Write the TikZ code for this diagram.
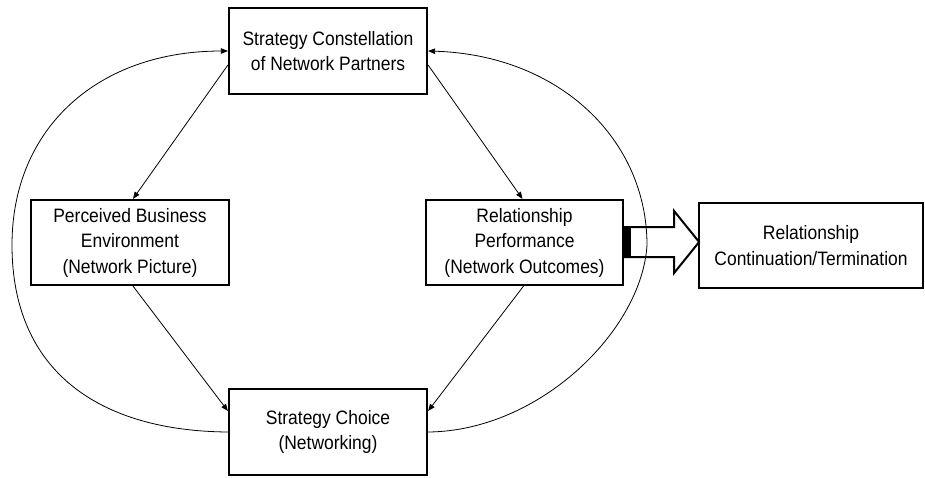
\documentclass[tikz,border=0pt]{standalone}
\usepackage{fontspec}
\setmainfont{Liberation Sans}[FakeStretch=0.9]
\usetikzlibrary{arrows.meta,calc}
\begin{document}
\begin{tikzpicture}[x=1pt,y=-1pt,
  box/.style={draw,line width=2.2pt,fill=white,align=center,inner sep=0pt,
    font=\fontsize{19.4}{25.5}\selectfont},
  link/.style={line width=0.8pt,-{Triangle[length=7pt,width=5.5pt]}},
  bigarrow/.style={draw,line width=2pt,line join=miter}]
\useasboundingbox (0,0) rectangle (925,477);

% boxes
\node[box,minimum width=198pt,minimum height=86pt] (top)  at (328,51)    {Strategy Constellation\\of Network Partners};
\node[box,minimum width=198pt,minimum height=85pt] (lbox) at (130,242.5) {Perceived Business\\Environment\\(Network Picture)};
\node[box,minimum width=197pt,minimum height=85pt] (rbox) at (524.5,242.5) {Relationship\\Performance\\(Network Outcomes)};
\node[box,minimum width=198pt,minimum height=86pt] (bot)  at (328,432)   {Strategy Choice\\(Networking)};
\node[box,minimum width=224pt,minimum height=85pt] (far)  at (811,245.5) {Relationship\\Continuation/Termination};

% outer feedback arcs
\coordinate (lx) at (12,245);
\coordinate (rx) at (647,245);
\draw[link] (bot.west) .. controls (100,431) and (12,372) .. (lx)
                       .. controls (12,128) and (98,51) .. (top.west);
\draw[link] (bot.east) .. controls (540,431) and (642,330) .. (rx)
                       .. controls (647,140) and (560,55) .. (top.east);

% inner links
\draw[link] ($(top.west)+(0,14)$) -- ($(lbox.north)+(3,0)$);
\draw[link] ($(top.east)+(0,14)$) -- ($(rbox.north)+(-2,0)$);
\draw[link] ($(lbox.south)+(3,0)$) -- ($(bot.west)+(0,-21)$);
\draw[link] ($(rbox.south)+(-1,0)$) -- ($(bot.east)+(0,-21)$);

% block arrow to the outcome box
\coordinate (tip) at ($(rbox.east)+(75,-0.5)$);
\draw[bigarrow] ($(rbox.east)+(0,-15.5)$) -- ++(50,0) -- ++(0,-16) -- (tip)
  -- ($(rbox.east)+(50,30.5)$) -- ++(0,-16) -- ($(rbox.east)+(0,14.5)$);
\fill ($(rbox.east)+(0,-15.5)$) rectangle ($(rbox.east)+(7,14.5)$);
\end{tikzpicture}
\end{document}
